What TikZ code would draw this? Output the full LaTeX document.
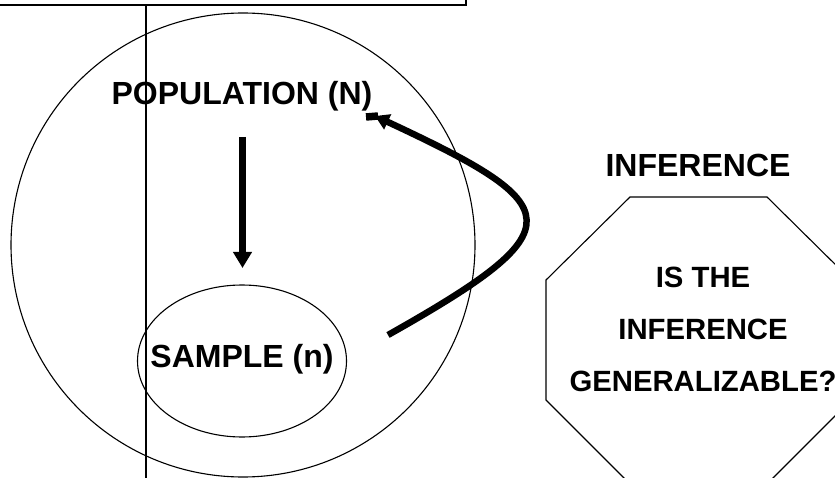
\documentclass[tikz,border=0pt]{standalone}
\usepackage{fontspec}
\setmainfont{Liberation Sans}
\usetikzlibrary{arrows.meta,shapes.geometric}
\begin{document}
\begin{tikzpicture}[x=1pt,y=-1pt,
  thinline/.style={line width=1.1pt},
  biglbl/.style={font=\fontsize{32}{38}\selectfont\bfseries, inner sep=0pt, anchor=base},
  octlbl/.style={font=\fontsize{29.3}{52}\selectfont\bfseries, inner sep=0pt, align=center},
  fatarrow/.style={line width=7.5pt, -{Triangle[length=16pt,width=18pt]}},
  curvearrow/.style={line width=6.5pt, -{Triangle[length=14pt,width=16pt]}}]
\useasboundingbox (0,0) rectangle (835,478);
% top box edge and vertical guide line
\draw[thinline] (0,5) -- (466,5) -- (466,-2);
\draw[thinline] (146,5) -- (146,480);
% population circle
\node[draw, thinline, circle, minimum size=464pt, inner sep=0pt] (pop) at (243,245) {};
\node[biglbl] (poplbl) at (242,105) {POPULATION (N)};
% sample ellipse
\node[draw, thinline, ellipse, minimum width=209pt, minimum height=152pt, inner sep=0pt] (sample) at (242,361) {};
\node[biglbl] (samplelbl) at (242,367) {SAMPLE (n)};
% down arrow
\coordinate (dtop) at (242.5,137);
\coordinate (dtip) at (242.5,268);
\draw[fatarrow] (dtop) -- (dtip);
% curved inference arrow
\coordinate (ctail) at (388,335);
\coordinate (chead) at (375,116);
\coordinate (cstub) at (366,117);
\draw[curvearrow] (ctail) .. controls (578,228) and (568,206) .. (chead);
\draw[line width=7.5pt] ([xshift=3pt]chead) -- (cstub);
% inference title
\node[biglbl] (inflbl) at (698,177) {INFERENCE};
% octagon
\draw[thinline] (630,197) -- (767,197) -- (851,280) -- (851,400) -- (767,484)
  -- (630,484) -- (546,400) -- (546,280) -- cycle;
\node[octlbl] (question) at (703,329) {IS THE\\INFERENCE\\GENERALIZABLE?};
\end{tikzpicture}
\end{document}
